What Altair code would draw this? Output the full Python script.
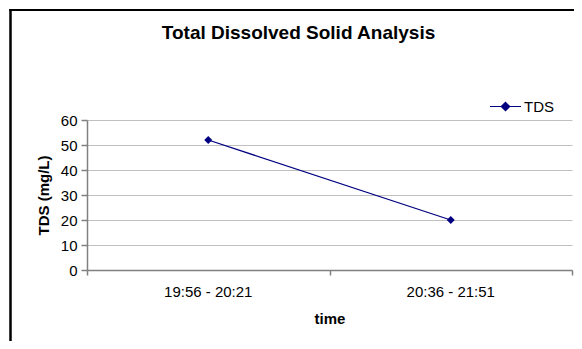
import altair as alt
import pandas as pd

categories = ["19:56 - 20:21", "20:36 - 21:51"]
tds_values = [52, 20]
series_name = "TDS"
y_ticks = [0, 10, 20, 30, 40, 50, 60]

df = pd.DataFrame({
    "time": categories,
    "pos": [i + 0.5 for i in range(len(categories))],
    "TDS": tds_values,
    "series": [series_name] * len(categories),
})

W, H = 485, 150
FONT = "Liberation Sans, Arial, sans-serif"
NAVY = "#000080"

x_scale = alt.Scale(domain=[0, len(categories)], nice=False, zero=False)
y_scale = alt.Scale(domain=[0, 60], nice=False)
color_scale = alt.Scale(domain=[series_name], range=[NAVY])

x_axis = alt.Axis(values=[0, 1, 2], labels=False, grid=False, tickSize=5,
                  tickColor="#808080", domainColor="#808080", domainWidth=1.5,
                  tickWidth=1.5, title="time", titleFont=FONT, titleFontSize=15,
                  titleFontWeight="bold", titleColor="black", titlePadding=36)
y_axis = alt.Axis(values=y_ticks, tickCount=7, tickSize=6, tickColor="#808080", tickWidth=1.5,
                  domainColor="#808080", domainWidth=1.5, gridColor="#c0c0c0",
                  gridWidth=1, labelFont=FONT, labelFontSize=15, labelColor="black",
                  labelPadding=4, labelOverlap=False, title="TDS (mg/L)",
                  titleFont=FONT, titleFontSize=15, titleFontWeight="bold",
                  titleColor="black", titlePadding=9)

legend_symbol = "M-1,0H1M0,-0.27L0.27,0L0,0.27L-0.27,0Z"
legend = alt.Legend(title=None, orient="none", legendX=402, legendY=-30,
                    symbolType=legend_symbol, symbolSize=961,
                    symbolFillColor=NAVY, symbolStrokeColor=NAVY,
                    symbolStrokeWidth=1.2, labelFont=FONT, labelFontSize=15,
                    labelColor="black", labelOffset=2, padding=0)

X = alt.X("pos:Q", scale=x_scale, axis=x_axis)
Y = alt.Y("TDS:Q", scale=y_scale, axis=y_axis)
C = alt.Color("series:N", scale=color_scale, legend=legend)

base = alt.Chart(df)

line = base.mark_line(strokeWidth=1.2).encode(x=X, y=Y, color=C)

points = base.mark_point(shape="diamond", filled=True, size=64, opacity=1).encode(
    x=X, y=Y, color=C
)

xlabels = base.mark_text(font=FONT, fontSize=15, color="black", baseline="middle").encode(
    x=X,
    y=alt.value(H + 22),
    text="time:N",
)

frame_left = alt.Chart(df).mark_rule(color="black", strokeWidth=2).encode(
    x=alt.value(-76.5), y=alt.value(-111), y2=alt.value(H + 90)
)
frame_top = alt.Chart(df).mark_rule(color="black", strokeWidth=2).encode(
    x=alt.value(-77.5), x2=alt.value(W + 40), y=alt.value(-110)
)

chart = alt.layer(frame_left, frame_top, line, points, xlabels).properties(
    width=W,
    height=H,
    autosize=alt.AutoSizeParams(type="none"),
    padding={"left": 79, "top": 112, "right": 2, "bottom": 71},
    background="white",
    title=alt.TitleParams("Total Dissolved Solid Analysis", font=FONT, fontSize=19,
                          fontWeight="bold", color="black", anchor="middle", dx=-31,
                          offset=-35),
).configure_view(stroke=None)

chart.save("out.html", embed_options={"renderer": "svg", "actions": False})
